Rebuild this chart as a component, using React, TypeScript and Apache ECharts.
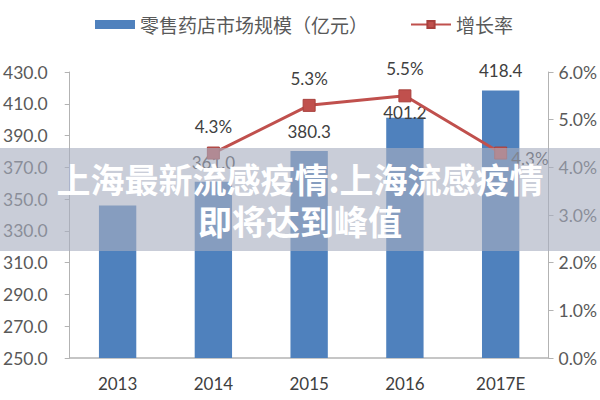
import React, { useEffect, useRef } from 'react';
import * as echarts from 'echarts';

const years = ['2013', '2014', '2015', '2016', '2017E'];
const marketSize = [346.0, 361.0, 380.3, 401.2, 418.4];
const growthRate = [null, 4.3, 5.3, 5.5, 4.3];
const legendNames = ['零售药店市场规模（亿元）', '增长率'];
const overlayLines = ['上海最新流感疫情:上海流感疫情', '即将达到峰值'];

const BLUE = '#4f81bd';
const RED = '#c0504d';
const TEXT = '#404040';
const AXIS = '#b3b3b3';
const FONT = 'Lato, "Noto Sans CJK SC", sans-serif';

export default function App() {
  const chartRef = useRef<HTMLDivElement>(null);

  useEffect(() => {
    document.body.style.margin = '0';
    if (!chartRef.current) return;
    const chart = echarts.init(chartRef.current, null, { renderer: 'svg' });

    const option = {
      animation: false,
      textStyle: { fontFamily: FONT },
      legend: {
        left: 90,
        top: 10,
        itemWidth: 40,
        itemHeight: 9,
        itemGap: 42,
        textStyle: { fontSize: 19, color: '#595959', fontFamily: '"Noto Sans CJK SC", sans-serif' },
        data: [{ name: legendNames[0], icon: 'rect' }, { name: legendNames[1] }]
      },
      grid: { left: 65, right: 50, top: 72, bottom: 42 },
      xAxis: {
        type: 'category',
        data: years,
        axisLine: { lineStyle: { color: AXIS, width: 1.5 } },
        axisTick: { length: 5, lineStyle: { color: AXIS } },
        axisLabel: { color: TEXT, fontSize: 17, margin: 17 }
      },
      yAxis: [
        {
          type: 'value',
          min: 250,
          max: 430,
          interval: 20,
          splitLine: { show: false },
          axisLine: { show: true, lineStyle: { color: AXIS } },
          axisTick: { show: true, length: 5, lineStyle: { color: AXIS } },
          axisLabel: { color: '#595959', fontSize: 17.5, margin: 22, formatter: (v: number) => v.toFixed(1) }
        },
        {
          type: 'value',
          min: 0,
          max: 6,
          interval: 1,
          splitLine: { show: false },
          axisLine: { show: true, lineStyle: { color: AXIS } },
          axisTick: { show: true, length: 5, lineStyle: { color: AXIS } },
          axisLabel: { color: '#595959', fontSize: 17.5, margin: 10, formatter: (v: number) => v.toFixed(1) + '%' }
        }
      ],
      series: [
        {
          name: legendNames[0],
          type: 'bar',
          barWidth: '39%',
          itemStyle: { color: BLUE },
          label: {
            show: true,
            position: 'top',
            distance: 11,
            color: TEXT,
            fontSize: 17,
            formatter: (p: any) => Number(p.value).toFixed(1)
          },
          data: marketSize.map((v, i) =>
            i === 0
              ? { value: v, label: { show: false } }
              : i === 3
              ? { value: v, label: { offset: [0, 14] } }
              : v
          )
        },
        {
          name: legendNames[1],
          type: 'line',
          yAxisIndex: 1,
          symbol: 'rect',
          symbolSize: 12,
          lineStyle: { color: RED, width: 3 },
          itemStyle: { color: RED, borderColor: '#a8403d', borderWidth: 1 },
          label: {
            show: true,
            position: 'top',
            distance: 12,
            color: TEXT,
            fontSize: 17,
            formatter: (p: any) => Number(p.value).toFixed(1) + '%'
          },
          data: growthRate.map((v, i) =>
            i === 4 ? { value: v, label: { position: 'right', distance: 4, offset: [0, 5] } } : v
          )
        }
      ],
      graphic: [
        {
          type: 'rect',
          left: 0,
          top: 148,
          z: 100,
          shape: { width: 600, height: 103 },
          style: { fill: 'rgba(168,174,192,0.62)' }
        },
        {
          type: 'text',
          x: 300,
          y: 178,
          z: 101,
          style: {
            text: overlayLines[0],
            fill: '#ffffff',
            font: 'bold 34px "Noto Sans CJK SC", sans-serif',
            textAlign: 'center',
            textVerticalAlign: 'middle',
            shadowColor: 'rgba(0,0,0,0.3)',
            shadowBlur: 2
          }
        },
        {
          type: 'text',
          x: 300,
          y: 220,
          z: 101,
          style: {
            text: overlayLines[1],
            fill: '#ffffff',
            font: 'bold 34px "Noto Sans CJK SC", sans-serif',
            textAlign: 'center',
            textVerticalAlign: 'middle',
            shadowColor: 'rgba(0,0,0,0.3)',
            shadowBlur: 2
          }
        }
      ]
    };
    chart.setOption(option);

    return () => {
      chart.dispose();
    };
  }, []);

  return <div ref={chartRef} style={{ width: 600, height: 400 }} />;
}
